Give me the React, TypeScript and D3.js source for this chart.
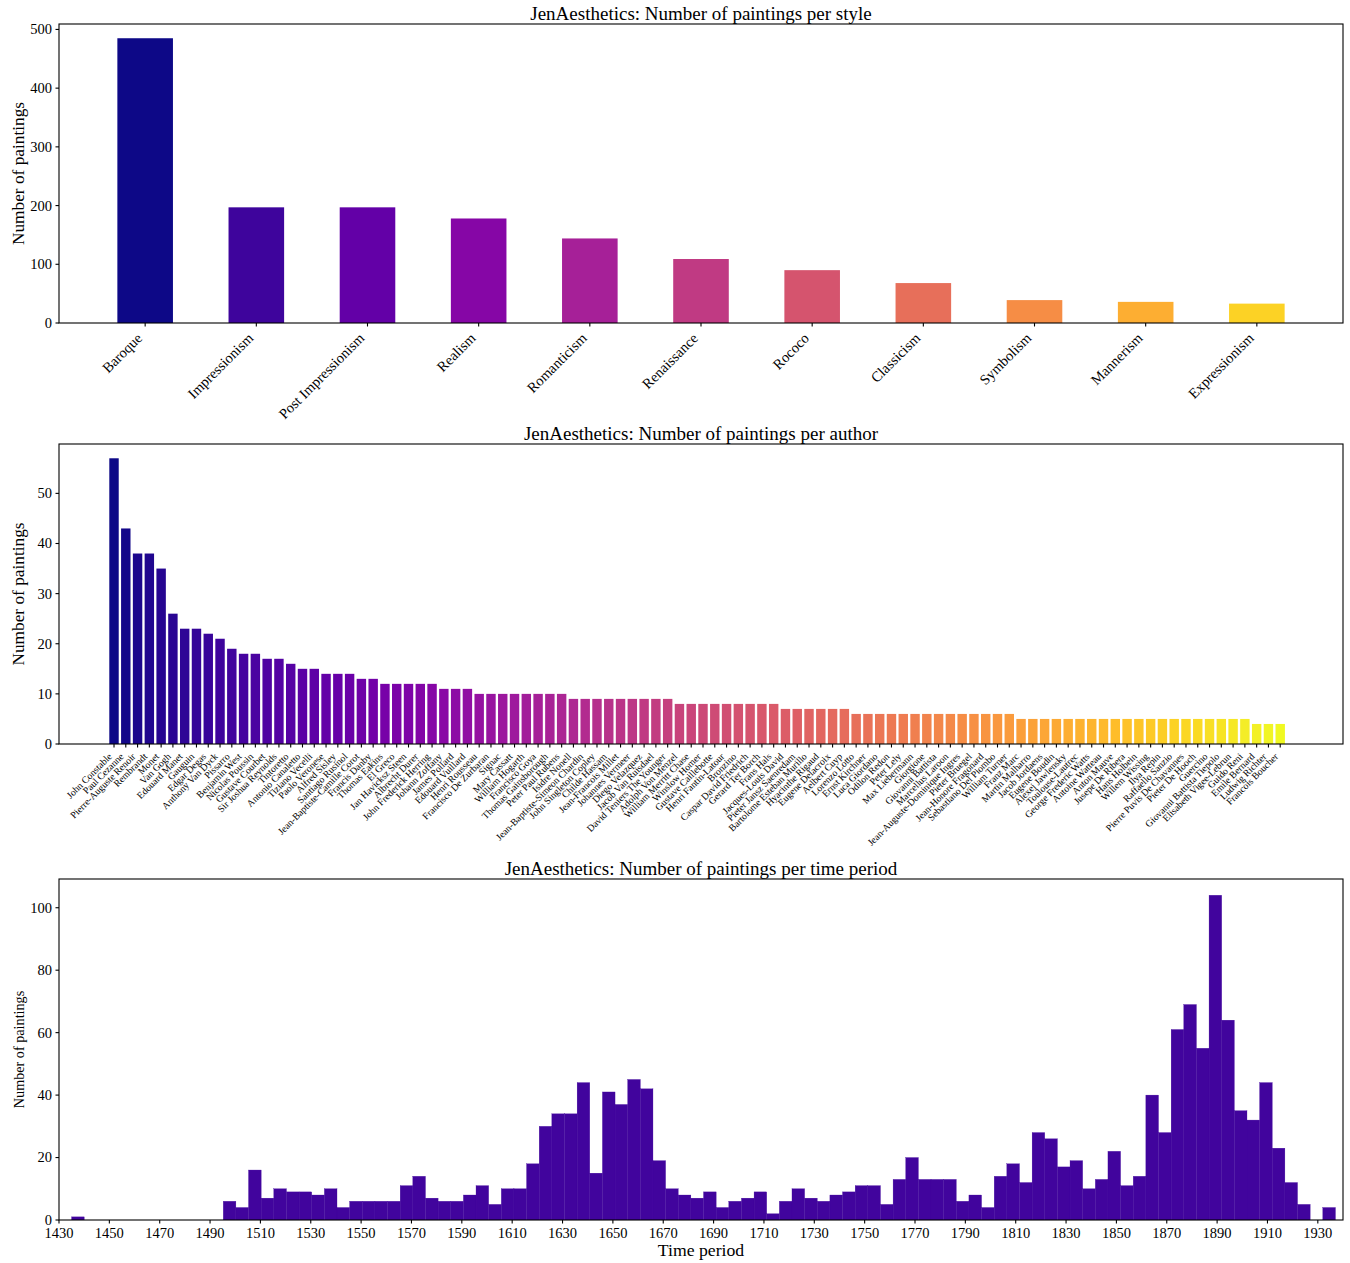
import React from 'react';
import * as d3 from 'd3';

const styleNames = ['Baroque', 'Impressionism', 'Post Impressionism', 'Realism', 'Romanticism', 'Renaissance', 'Rococo', 'Classicism', 'Symbolism', 'Mannerism', 'Expressionism'];
const styleCounts = [485, 197, 197, 178, 144, 109, 90, 68, 39, 36, 33];
const styleYTicks = [0, 100, 200, 300, 400, 500];

const authorNames = [
  'John Constable', 'Paul Cezanne', 'Pierre-Auguste Renoir', 'Rembrandt', 'Monet', 'Van Gogh', 'Edouard Manet', 'Gauguin', 'Edgar Degas', 'Anthony Van Dyck',
  'Pissarro', 'Benjamin West', 'Nicolas Poussin', 'Gustave Courbet', 'Sir Joshua Reynolds', 'Tintoretto', 'Antonio Canaletto', 'Tiziano Vecelli', 'Paolo Veronese', 'Alfred Sisley',
  'Santiago Rusinol', 'Jean-Baptiste-Camille Corot', 'Francis Danby', 'Thomas Eakins', 'El Greco', 'Jan Havicksz Steen', 'Albrecht Durer', 'John Frederick Herring', 'Johann Zoffany', 'James Pollard',
  'Edouard Vuillard', 'Henri Rousseau', 'Francisco De Zurbaran', 'Signac', 'Mary Cassatt', 'William Hogarth', 'Francisco Goya', 'Thomas Gainsborough', 'Peter Paul Rubens', 'Isidre Nonell',
  'Jean-Baptiste-Simeon Chardin', 'John Singleton Copley', 'Childe Hassam', 'Jean-Francois Millet', 'Johannes Vermeer', 'Diego Velazquez', 'Jacob Van Ruisdael', 'David Teniers The Younger', 'Adolph Von Menzel', 'William Merritt Chase',
  'Winslow Homer', 'Gustave Caillebotte', 'Henri Fantin-Latour', 'Bronzino', 'Caspar David Friedrich', 'Gerard Ter Borch', 'Frans Hals', 'Jacques-Louis David', 'Pieter Jansz Saenredam', 'Bartolome Esteban Murillo',
  'Hyacinthe Rigaud', 'Eugene Delacroix', 'Aelbert Cuyp', 'Lorenzo Lotto', 'Ernst Kirchner', 'Luca Giordano', 'Odilon Redon', 'Peter Lely', 'Max Liebermann', 'Giorgione',
  'Giovanni Battista', 'Marcellus Laroon', 'Jean-Auguste-Dominique Ingres', 'Pieter Bruegel', 'Jean-Honore Fragonard', 'Sebastiano Del Piombo', 'William Turner', 'Franz Marc', 'Martin Malharro', 'Jacob Jordaens',
  'Eugene Boudin', 'Alexej Jawlensky', 'Toulouse-Lautrec', 'George Frederic Watts', 'Antoine Watteau', 'Anton Mauve', 'Jusepe De Ribera', 'Hans Holbein', 'Willem Wissing', 'Ilya Repin',
  'Raffaello Sanzio', 'Pierre Puvis De Chavannes', 'Pieter De Hooch', 'Guercino', 'Giovanni Battista Tiepolo', 'Elisabeth Vigee-Lebrun', 'Guido Reni', 'Emile Bernard', 'Ludwig Richter', 'Francois Boucher',
];
const authorCounts = [
  57, 43, 38, 38, 35, 26, 23, 23, 22, 21,
  19, 18, 18, 17, 17, 16, 15, 15, 14, 14,
  14, 13, 13, 12, 12, 12, 12, 12, 11, 11,
  11, 10, 10, 10, 10, 10, 10, 10, 10, 9,
  9, 9, 9, 9, 9, 9, 9, 9, 8, 8,
  8, 8, 8, 8, 8, 8, 8, 7, 7, 7,
  7, 7, 7, 6, 6, 6, 6, 6, 6, 6,
  6, 6, 6, 6, 6, 6, 6, 5, 5, 5,
  5, 5, 5, 5, 5, 5, 5, 5, 5, 5,
  5, 5, 5, 5, 5, 5, 5, 4, 4, 4,
];
const authorYTicks = [0, 10, 20, 30, 40, 50];
const authorXDomain = [-4.67, 104.33];

const periodStart = 1435;
const periodEnd = 1937;
const periodCounts = [
  1, 0, 0, 0, 0, 0, 0, 0, 0, 0,
  0, 0, 6, 4, 16, 7, 10, 9, 9, 8,
  10, 4, 6, 6, 6, 6, 11, 14, 7, 6,
  6, 8, 11, 5, 10, 10, 18, 30, 34, 34,
  44, 15, 41, 37, 45, 42, 19, 10, 8, 7,
  9, 4, 6, 7, 9, 2, 6, 10, 7, 6,
  8, 9, 11, 11, 5, 13, 20, 13, 13, 13,
  6, 8, 4, 14, 18, 12, 28, 26, 17, 19,
  10, 13, 22, 11, 14, 40, 28, 61, 69, 55,
  104, 64, 35, 32, 44, 23, 12, 5, 0, 4,
];
const periodXTicks = [1430, 1450, 1470, 1490, 1510, 1530, 1550, 1570, 1590, 1610, 1630, 1650, 1670, 1690, 1710, 1730, 1750, 1770, 1790, 1810, 1830, 1850, 1870, 1890, 1910, 1930];
const periodXDomain = [1430, 1940];
const periodYTicks = [0, 20, 40, 60, 80, 100];

const FONT = "'Liberation Serif', 'Times New Roman', Times, serif";
const W = 1350;
const H = 1263;
const L = 59;
const R = 1343;
const TICK = 3.5;
const PAD = 3.5;
const TICK_FS = 14.5;
const TITLE_FS = 19;

function Frame({ top, bottom }: { top: number; bottom: number }) {
  return <rect x={L} y={top} width={R - L} height={bottom - top} fill="none" stroke="#000" strokeWidth={1.1} />;
}

function YAxis({ y, ticks, fs }: { y: d3.ScaleLinear<number, number>; ticks: number[]; fs: number }) {
  return (
    <g>
      {ticks.map((t) => (
        <g key={t}>
          <line x1={L - TICK} x2={L} y1={y(t)} y2={y(t)} stroke="#000" strokeWidth={1.1} />
          <text x={L - TICK - PAD} y={y(t)} dy="0.34em" textAnchor="end" fontSize={fs} fontFamily={FONT}>{t}</text>
        </g>
      ))}
    </g>
  );
}

function RotLabels({ names, x, axisY, fs }: { names: string[]; x: (i: number) => number; axisY: number; fs: number }) {
  const a = 0.891 * fs;
  const d = 0.216 * fs;
  return (
    <g>
      {names.map((n, i) => {
        const tx = x(i);
        const bx = tx - 0.707 * d;
        const by = axisY + TICK + PAD + 0.707 * a;
        return (
          <g key={n + i}>
            <line x1={tx} x2={tx} y1={axisY} y2={axisY + TICK} stroke="#000" strokeWidth={1.1} />
            <text transform={`translate(${bx},${by}) rotate(-45)`} textAnchor="end" fontSize={fs} fontFamily={FONT}>{n}</text>
          </g>
        );
      })}
    </g>
  );
}

export default function App() {
  // Chart 1: styles
  const t1 = 24, b1 = 323;
  const n1 = styleCounts.length;
  const w1 = 0.5;
  const m1 = 0.05 * (n1 - 1 + w1);
  const x1 = d3.scaleLinear().domain([-w1 / 2 - m1, n1 - 1 + w1 / 2 + m1]).range([L, R]);
  const y1 = d3.scaleLinear().domain([0, d3.max(styleCounts)! * 1.05]).range([b1, t1]);
  const c1 = (i: number) => d3.interpolatePlasma(i / n1);

  // Chart 2: authors
  const t2 = 444, b2 = 744;
  const n2 = authorCounts.length;
  const w2 = 0.8;
  const x2 = d3.scaleLinear().domain(authorXDomain).range([L, R]);
  const y2 = d3.scaleLinear().domain([0, d3.max(authorCounts)! * 1.05]).range([b2, t2]);
  const c2 = (i: number) => d3.interpolatePlasma(i / (n2 - 1));

  // Chart 3: periods
  const t3 = 879, b3 = 1220;
  const nb = periodCounts.length;
  const bw = (periodEnd - periodStart) / nb;
  const x3 = d3.scaleLinear().domain(periodXDomain).range([L, R]);
  const y3 = d3.scaleLinear().domain([0, d3.max(periodCounts)! * 1.05]).range([b3, t3]);

  return (
    <svg width={W} height={H} style={{ position: 'absolute', left: 0, top: 0, background: '#fff' }} fontFamily={FONT}>
      <rect x={0} y={0} width={W} height={H} fill="#fff" />

      {/* Chart 1 */}
      <text x={(L + R) / 2} y={t1 - 4.5} textAnchor="middle" fontSize={TITLE_FS}>JenAesthetics: Number of paintings per style</text>
      {styleCounts.map((v, i) => (
        <rect key={i} x={x1(i - w1 / 2)} width={x1(i + w1 / 2) - x1(i - w1 / 2)} y={y1(v)} height={y1(0) - y1(v)} fill={c1(i)} />
      ))}
      <Frame top={t1} bottom={b1} />
      <YAxis y={y1} ticks={styleYTicks} fs={TICK_FS} />
      <RotLabels names={styleNames} x={(i) => x1(i)} axisY={b1} fs={TICK_FS} />
      <text transform={`translate(24,${(t1 + b1) / 2}) rotate(-90)`} textAnchor="middle" fontSize={17.3}>Number of paintings</text>

      {/* Chart 2 */}
      <text x={(L + R) / 2} y={t2 - 4.5} textAnchor="middle" fontSize={TITLE_FS}>JenAesthetics: Number of paintings per author</text>
      {authorCounts.map((v, i) => (
        <rect key={i} x={x2(i - w2 / 2)} width={x2(i + w2 / 2) - x2(i - w2 / 2)} y={y2(v)} height={y2(0) - y2(v)} fill={c2(i)} />
      ))}
      <Frame top={t2} bottom={b2} />
      <YAxis y={y2} ticks={authorYTicks} fs={TICK_FS} />
      <RotLabels names={authorNames} x={(i) => x2(i)} axisY={b2} fs={9.7} />
      <text transform={`translate(24,${(t2 + b2) / 2}) rotate(-90)`} textAnchor="middle" fontSize={17.3}>Number of paintings</text>

      {/* Chart 3 */}
      <text x={(L + R) / 2} y={t3 - 4.5} textAnchor="middle" fontSize={TITLE_FS}>JenAesthetics: Number of paintings per time period</text>
      <defs>
        <clipPath id="clip3"><rect x={L} y={t3} width={R - L} height={b3 - t3} /></clipPath>
      </defs>
      <g clipPath="url(#clip3)">
        {periodCounts.map((v, i) => {
          const a = periodStart + i * bw;
          const b = a + bw;
          return <rect key={i} x={x3(a)} width={x3(b) - x3(a)} y={y3(v)} height={y3(0) - y3(v)} fill="#41049d" stroke="#41049d" strokeWidth={0.3} />;
        })}
      </g>
      <Frame top={t3} bottom={b3} />
      <YAxis y={y3} ticks={periodYTicks} fs={TICK_FS} />
      {periodXTicks.map((t) => (
        <g key={t}>
          <line x1={x3(t)} x2={x3(t)} y1={b3} y2={b3 + TICK} stroke="#000" strokeWidth={1.1} />
          <text x={x3(t)} y={b3 + TICK + PAD} dy="0.75em" textAnchor="middle" fontSize={TICK_FS}>{t}</text>
        </g>
      ))}
      <text x={(L + R) / 2} y={1256} textAnchor="middle" fontSize={17.7}>Time period</text>
      <text transform={`translate(24,${(t3 + b3) / 2}) rotate(-90)`} textAnchor="middle" fontSize={14.2}>Number of paintings</text>
    </svg>
  );
}
